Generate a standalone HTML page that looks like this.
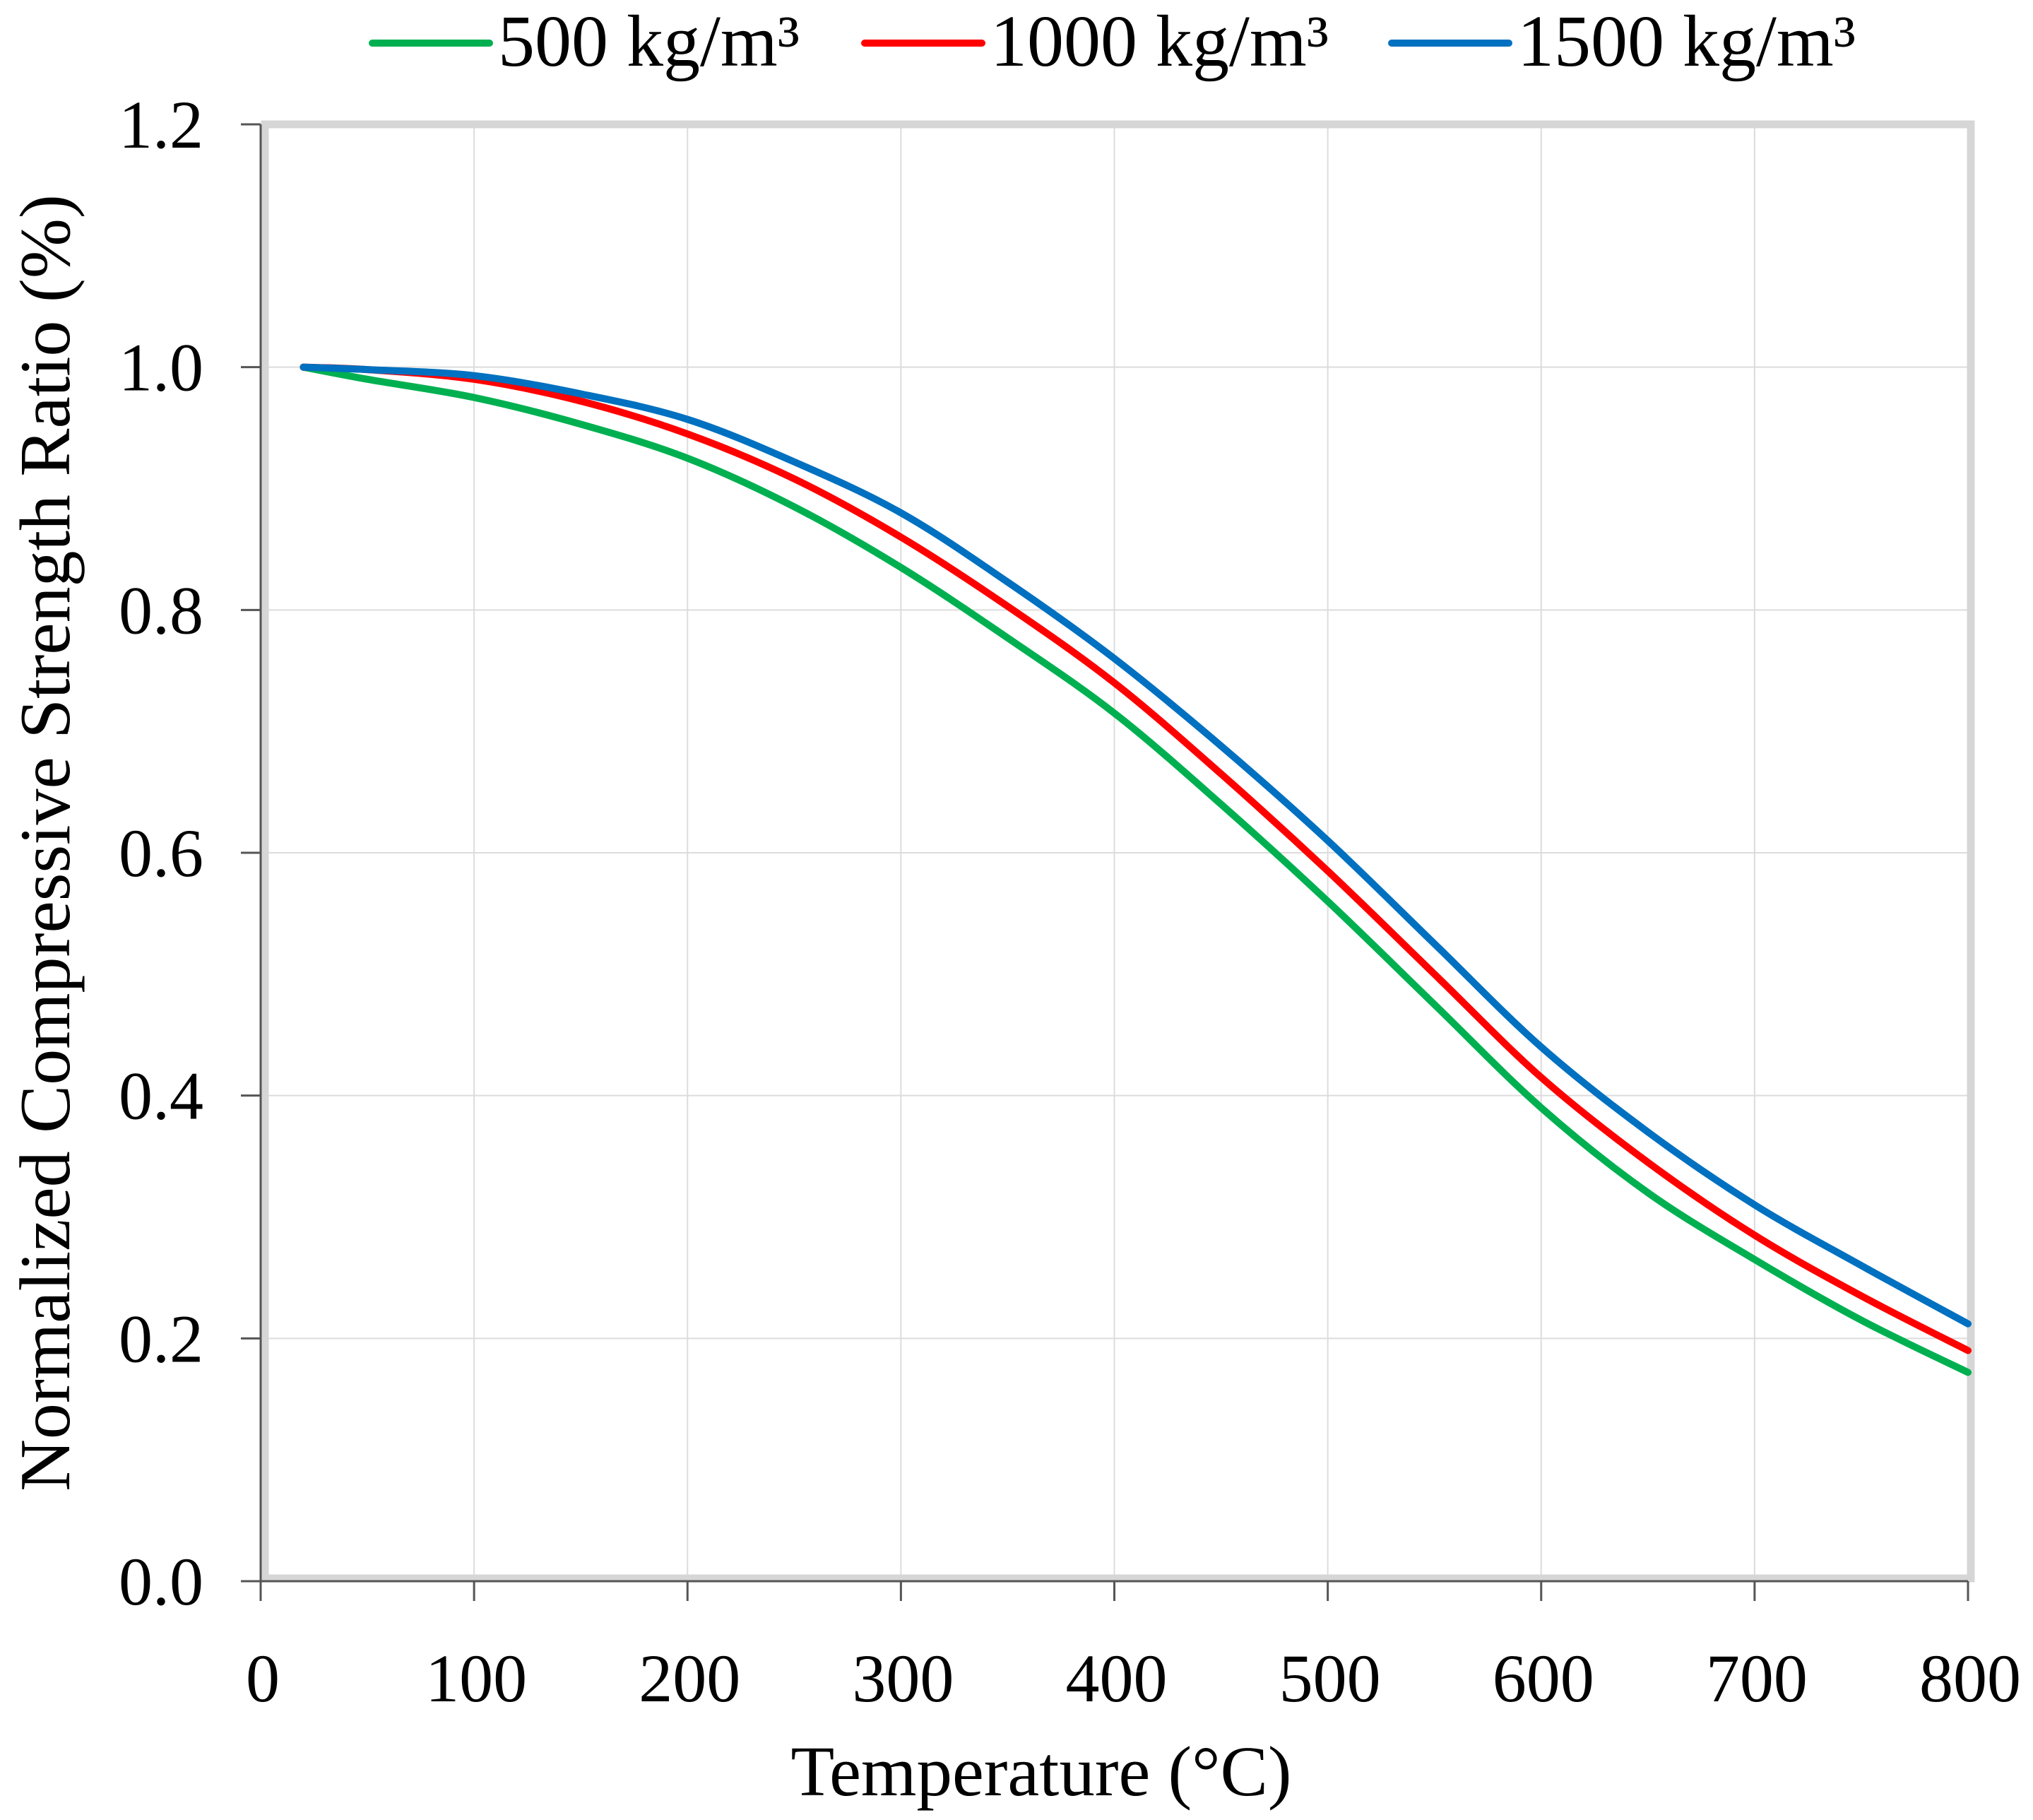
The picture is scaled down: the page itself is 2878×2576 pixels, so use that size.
<!DOCTYPE html>
<html><head><meta charset="utf-8"><style>
html,body{margin:0;padding:0;background:#fff;}
svg{display:block;}
text{font-family:"Liberation Serif",serif;fill:#000;}
</style></head><body>
<svg id="chart" width="2878" height="2576" viewBox="0 0 2878 2576">
<g id="grid"></g>
<g id="frame"></g>
<g id="axes"></g>
<g id="series"></g>
<g id="legend"></g>
<text x="1474" y="2541" font-size="101" text-anchor="middle">Temperature (°C)</text>
<text transform="translate(98,1193) rotate(-90)" font-size="102" text-anchor="middle">Normalized Compressive Strength Ratio (%)</text>
</svg>
<script>
const temps = [20,50,100,150,200,250,300,350,400,450,500,550,600,650,700,750,800];
const green500 = [1.0,0.99,0.975,0.953,0.925,0.885,0.835,0.777,0.715,0.64,0.56,0.475,0.39,0.32,0.265,0.215,0.172];
const red1000 = [1.0,0.998,0.99,0.972,0.945,0.908,0.86,0.803,0.74,0.665,0.585,0.50,0.415,0.345,0.285,0.235,0.19];
const blue1500 = [1.0,0.998,0.993,0.978,0.957,0.922,0.88,0.823,0.76,0.688,0.61,0.525,0.44,0.37,0.31,0.26,0.212];
const seriesNames = ["500 kg/m³","1000 kg/m³","1500 kg/m³"];
const xTicks = [0,100,200,300,400,500,600,700,800];
const yTicks = [0,0.2,0.4,0.6,0.8,1.0,1.2];
const yTickLabels = ["0.0","0.2","0.4","0.6","0.8","1.0","1.2"];

const X0=369,X1=2786,Y0=2238,Y1=176;
const xs = v => X0 + (v-0)/(800-0)*(X1-X0);
const ys = v => Y0 - (v-0)/(1.2-0)*(Y0-Y1);
const NS="http://www.w3.org/2000/svg";
function mk(tag,attrs,parent){const e=document.createElementNS(NS,tag);for(const k in attrs)e.setAttribute(k,attrs[k]);parent.appendChild(e);return e;}
const grid=document.getElementById('grid'),frame=document.getElementById('frame'),axes=document.getElementById('axes'),series=document.getElementById('series'),legend=document.getElementById('legend');

xTicks.forEach(t=>{ if(t>0&&t<800){const l=mk('line',{x1:xs(t),x2:xs(t),y1:Y1,y2:Y0,stroke:'#dcdcdc','stroke-width':2},grid);

}});
yTicks.forEach(t=>{ if(t>0&&t<1.2){const l=mk('line',{x1:X0,x2:X1,y1:ys(t),y2:ys(t),stroke:'#dcdcdc','stroke-width':2},grid);

}});

const fr=mk('rect',{x:X0+6,y:Y1,width:X1-X0-2,height:Y0-Y1-4,fill:'none',stroke:'#d6d6d6','stroke-width':11},frame);



const ya=mk('line',{x1:X0,x2:X0,y1:Y1,y2:Y0,stroke:'#555','stroke-width':3},axes);


const xa=mk('line',{x1:X0-28,x2:X1,y1:Y0,y2:Y0,stroke:'#555','stroke-width':3},axes);



yTicks.forEach((t,i)=>{
 const tk=mk('line',{x1:X0-28,x2:X0,y1:ys(t),y2:ys(t),stroke:'#555','stroke-width':3},axes);
 
 
 const tx=mk('text',{x:288,y:ys(t)+33,'font-size':96,'text-anchor':'end'},axes);
 tx.textContent=yTickLabels[i];
 
 
});
xTicks.forEach(t=>{
 const tk=mk('line',{x1:xs(t),x2:xs(t),y1:Y0,y2:Y0+28,stroke:'#555','stroke-width':3},axes);
 
 
 const tx=mk('text',{x:xs(t)+3,y:2408,'font-size':96,'text-anchor':'middle'},axes);
 tx.textContent=String(t);
 
 
});

function smoothPath(xv,yv){
 const p=xv.map((x,i)=>[xs(x),ys(yv[i])]);
 let d=`M${p[0][0]},${p[0][1]}`;
 for(let i=0;i<p.length-1;i++){
  const p0=p[Math.max(i-1,0)],p1=p[i],p2=p[i+1],p3=p[Math.min(i+2,p.length-1)];
  const c1=[p1[0]+(p2[0]-p0[0])/6,p1[1]+(p2[1]-p0[1])/6];
  const c2=[p2[0]-(p3[0]-p1[0])/6,p2[1]-(p3[1]-p1[1])/6];
  d+=` C${c1[0]},${c1[1]} ${c2[0]},${c2[1]} ${p2[0]},${p2[1]}`;
 }
 return d;
}
const colors=['#00b050','#ff0000','#0070c0'];
const data=[green500,red1000,blue1500];
const lineNames=['line-500','line-1000','line-1500'];
data.forEach((vals,i)=>{
 const pth=mk('path',{d:smoothPath(temps,vals),fill:'none',stroke:colors[i],'stroke-width':10,'stroke-linecap':'round','stroke-linejoin':'round'},series);
 
 
});

const legX=[527,1224,1970];
seriesNames.forEach((n,i)=>{
 const g=mk('g',{},legend);
 
 
 mk('line',{x1:legX[i],x2:legX[i]+166,y1:61,y2:61,stroke:colors[i],'stroke-width':10,'stroke-linecap':'round'},g);
 const t=mk('text',{x:legX[i]+178,y:93,'font-size':104},g);
 t.textContent=n;
});
</script>
</body></html>
